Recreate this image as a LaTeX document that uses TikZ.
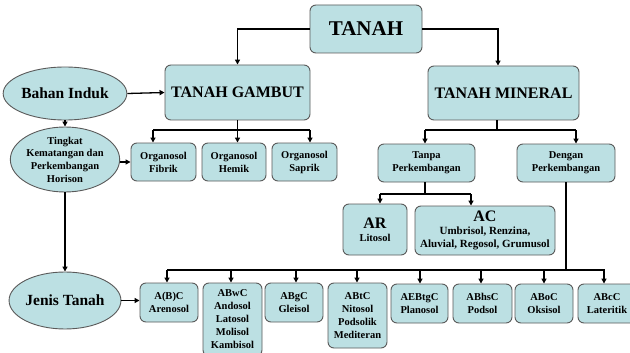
\documentclass[tikz,border=0pt]{standalone}
\usepackage{fontspec}
\setmainfont{Liberation Serif}
\usetikzlibrary{shapes.geometric,arrows.meta,calc}
\definecolor{boxfill}{HTML}{BCE0E3}
\definecolor{boxline}{HTML}{5A5A5A}
\begin{document}
\begin{tikzpicture}[x=1pt,y=-1pt,
  rbox/.style={draw=boxline,line width=0.9pt,fill=boxfill,rounded corners=6pt,align=center,inner sep=0pt,font=\bfseries\fontsize{10.5}{13}\selectfont},
  ebox/.style={draw=boxline,line width=0.9pt,fill=boxfill,ellipse,align=center,inner sep=0pt,font=\bfseries\fontsize{10.5}{12.7}\selectfont},
  conn/.style={line width=1.3pt,black},
  arr/.style={conn,-{Triangle[length=5pt,width=5pt]}}]
\clip (0,0) rectangle (630,353);
\fill[white] (0,0) rectangle (630,353);
% top level
\node[rbox,minimum width=112pt,minimum height=48pt,font=\bfseries\fontsize{21}{24}\selectfont] (tanah) at (366,29) {TANAH};
\node[rbox,minimum width=145pt,minimum height=55pt,font=\bfseries\fontsize{16}{19}\selectfont] (gambut) at (237.5,92.5) {TANAH GAMBUT};
\node[rbox,minimum width=151pt,minimum height=54pt,font=\bfseries\fontsize{16}{19}\selectfont] (mineral) at (503.5,93) {TANAH MINERAL};
% ellipses
\node[ebox,minimum width=116pt,minimum height=53pt,font=\bfseries\fontsize{15.5}{18}\selectfont] (bahan) at (65,93.5) {Bahan Induk};
\node[ebox,minimum width=98pt,minimum height=65pt] (tingkat) at (65,159.5) {Tingkat\\Kematangan dan\\Perkembangan\\Horison};
\node[ebox,minimum width=107pt,minimum height=57pt,font=\bfseries\fontsize{15.5}{18}\selectfont] (jenis) at (65,300.5) {Jenis Tanah};
% gambut children
\node[rbox,minimum width=65pt,minimum height=38pt] (fibrik) at (163.5,162) {Organosol\\Fibrik};
\node[rbox,minimum width=64pt,minimum height=38pt] (hemik) at (234,162) {Organosol\\Hemik};
\node[rbox,minimum width=65pt,minimum height=38pt] (saprik) at (304.5,162) {Organosol\\Saprik};
% mineral children
\node[rbox,minimum width=97pt,minimum height=38pt] (tanpa) at (426.5,163) {Tanpa\\Perkembangan};
\node[rbox,minimum width=98pt,minimum height=38pt] (dengan) at (566,163) {Dengan\\Perkembangan};
\node[rbox,minimum width=64pt,minimum height=51pt] (ar) at (375,229.5) {{\fontsize{16}{18}\selectfont AR}\\Litosol};
\node[rbox,minimum width=140pt,minimum height=49pt,font=\bfseries\fontsize{11}{13}\selectfont] (ac) at (485,230.5) {{\fontsize{16}{18}\selectfont AC}\\Umbrisol, Renzina,\\Aluvial, Regosol, Grumusol};
% bottom row
\node[rbox,minimum width=58pt,minimum height=39pt] (b1) at (169,302.5) {A(B)C\\Arenosol};
\node[rbox,minimum width=59pt,minimum height=73pt] (b2) at (232.5,319.5) {ABwC\\Andosol\\Latosol\\Molisol\\Kambisol};
\node[rbox,minimum width=58pt,minimum height=39pt] (b3) at (294,302.5) {ABgC\\Gleisol};
\node[rbox,minimum width=59pt,minimum height=65pt] (b4) at (357.5,315.5) {ABtC\\Nitosol\\Podsolik\\Mediteran};
\node[rbox,minimum width=57pt,minimum height=39pt] (b5) at (419.5,303.5) {AEBtgC\\Planosol};
\node[rbox,minimum width=59pt,minimum height=39pt] (b6) at (482.5,303.5) {ABhsC\\Podsol};
\node[rbox,minimum width=58pt,minimum height=39pt] (b7) at (544,303.5) {ABoC\\Oksisol};
\node[rbox,minimum width=58pt,minimum height=39pt] (b8) at (607,303.5) {ABcC\\Lateritik};
% connectors from TANAH
\draw[arr] (tanah.west) -| (gambut.north);
\coordinate (mtop) at ($(mineral.north)+(-5.5,0)$);
\draw[arr] (tanah.east) -| (mtop);
% left column
\draw[arr] (bahan.east) -- (gambut.west);
\draw[arr] (bahan.south) -- (tingkat.north);
\draw[arr] (tingkat.east |- fibrik.west) -- (fibrik.west);
\draw[arr] (tingkat.south) -- (jenis.north);
\draw[arr] (jenis.east) -- (b1.west |- jenis.east);
% gambut bus
\coordinate (g1) at (153,130);
\coordinate (g3) at (310,130);
\draw[conn] (gambut.south) -- (gambut.south |- g1);
\draw[conn] (g1) -- (g3);
\draw[arr] (g1) -- (g1 |- fibrik.north);
\draw[arr] (gambut.south |- g1) -- (gambut.south |- hemik.north);
\draw[arr] (g3) -- (g3 |- saprik.north);
% mineral bus
\coordinate (mbot) at ($(mineral.south)+(-6.5,0)$);
\coordinate (m1) at (425,130);
\coordinate (m2) at (576,130);
\draw[conn] (mbot) -- (mbot |- m1);
\draw[conn] (m1) -- (m2);
\draw[arr] (m1) -- (m1 |- tanpa.north);
\draw[arr] (m2) -- (m2 |- dengan.north);
% tanpa bus
\coordinate (t1) at (380,194);
\coordinate (t2) at (471,194);
\draw[conn] (m1 |- tanpa.south) -- (m1 |- t1);
\draw[conn] (t1) -- (t2);
\draw[arr] (t1) -- (t1 |- ar.north);
\draw[arr] (t2) -- (t2 |- ac.north);
% dengan bus
\coordinate (d1) at (167,270);
\coordinate (d8) at (605,270);
\draw[conn] (dengan.south) -- (dengan.south |- d1);
\draw[conn] (d1) -- (d8);
\foreach \n/\x in {b1/167,b2/231,b3/296,b4/357,b5/420,b6/481,b7/544,b8/604}{
  \draw[arr] (\x,270) -- (\x,270 |- \n.north);
}
\end{tikzpicture}
\end{document}
